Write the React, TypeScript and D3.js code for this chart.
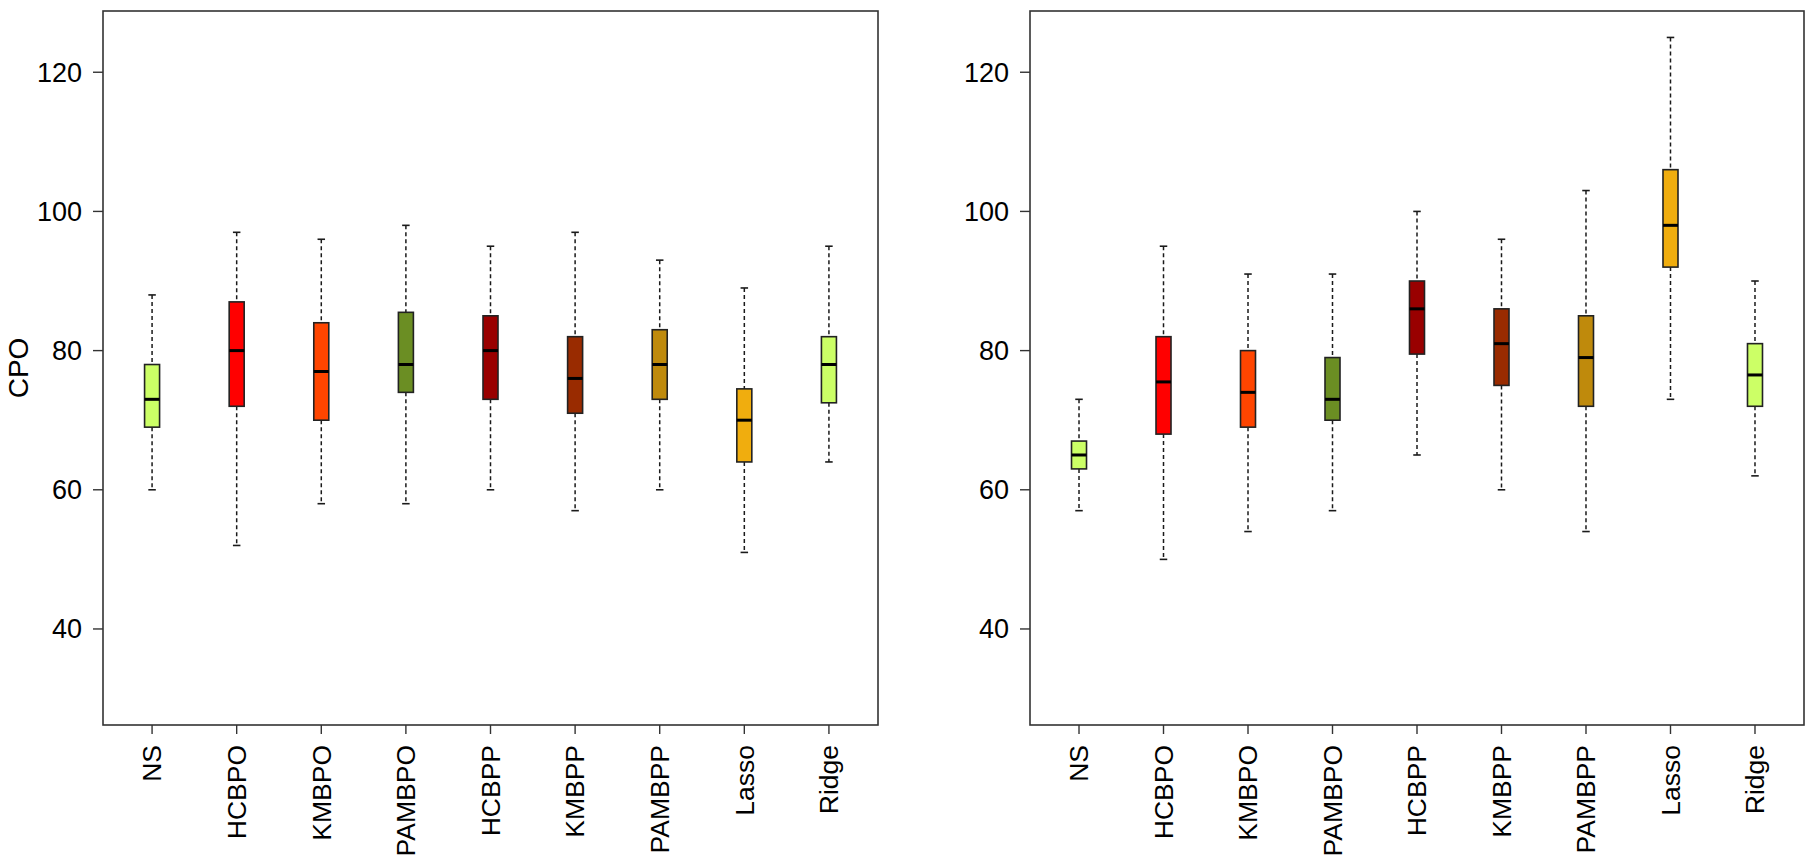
import React from "react";
import * as d3 from "d3";

const categories = ["NS", "HCBPO", "KMBPO", "PAMBPO", "HCBPP", "KMBPP", "PAMBPP", "Lasso", "Ridge"];
const boxColors = ["#CCFF66", "#FF0000", "#FF4500", "#6B8E23", "#990000", "#992B00", "#BF8A0C", "#F0AD0E", "#CCFF66"];
const yTicks = [40, 60, 80, 100, 120];
const yLimits = [30, 125];

// Left panel
const leftLow = [60, 52, 58, 58, 60, 57, 60, 51, 64];
const leftQ1 = [69, 72, 70, 74, 73, 71, 73, 64, 72.5];
const leftMedian = [73, 80, 77, 78, 80, 76, 78, 70, 78];
const leftQ3 = [78, 87, 84, 85.5, 85, 82, 83, 74.5, 82];
const leftHigh = [88, 97, 96, 98, 95, 97, 93, 89, 95];

// Right panel
const rightLow = [57, 50, 54, 57, 65, 60, 54, 73, 62];
const rightQ1 = [63, 68, 69, 70, 79.5, 75, 72, 92, 72];
const rightMedian = [65, 75.5, 74, 73, 86, 81, 79, 98, 76.5];
const rightQ3 = [67, 82, 80, 79, 90, 86, 85, 106, 81];
const rightHigh = [73, 95, 91, 91, 100, 96, 103, 125, 90];

const FONT = "'Liberation Sans', Arial, sans-serif";

type PanelProps = {
  x0: number;
  x1: number;
  low: number[];
  q1: number[];
  med: number[];
  q3: number[];
  high: number[];
  ylab?: string;
};

const TOP = 11;
const BOTTOM = 725;

function Panel({ x0, x1, low, q1, med, q3, high, ylab }: PanelProps) {
  const ext = (yLimits[1] - yLimits[0]) * 0.04;
  const y = d3.scaleLinear().domain([yLimits[0] - ext, yLimits[1] + ext]).range([BOTTOM, TOP]);
  const pad = 0.58;
  const x = d3.scaleLinear().domain([1 - pad, categories.length + pad]).range([x0, x1]);
  const bw = 15;
  const cw = 7.5;
  return (
    <g>
      {categories.map((c, i) => {
        const cx = x(i + 1);
        return (
          <g key={c}>
            <line x1={cx} x2={cx} y1={y(high[i])} y2={y(q3[i])} stroke="#1a1a1a" strokeWidth={1.5} strokeDasharray="4,3" />
            <line x1={cx} x2={cx} y1={y(q1[i])} y2={y(low[i])} stroke="#1a1a1a" strokeWidth={1.5} strokeDasharray="4,3" />
            <line x1={cx - cw / 2} x2={cx + cw / 2} y1={y(high[i])} y2={y(high[i])} stroke="#1a1a1a" strokeWidth={1.6} />
            <line x1={cx - cw / 2} x2={cx + cw / 2} y1={y(low[i])} y2={y(low[i])} stroke="#1a1a1a" strokeWidth={1.6} />
            <rect x={cx - bw / 2} y={y(q3[i])} width={bw} height={y(q1[i]) - y(q3[i])} fill={boxColors[i]} stroke="#222" strokeWidth={1.6} />
            <line x1={cx - bw / 2} x2={cx + bw / 2} y1={y(med[i])} y2={y(med[i])} stroke="#000" strokeWidth={3} />
            <line x1={cx} x2={cx} y1={BOTTOM} y2={BOTTOM + 9} stroke="#333" strokeWidth={1.4} />
            <text
              transform={`translate(${cx},${BOTTOM + 20}) rotate(-90)`}
              textAnchor="end"
              dy="0.35em"
              fontSize={26.5}
              fontFamily={FONT}
              fill="#000"
            >
              {c}
            </text>
          </g>
        );
      })}
      {yTicks.map((t) => (
        <g key={t}>
          <line x1={x0 - 10} x2={x0} y1={y(t)} y2={y(t)} stroke="#333" strokeWidth={1.4} />
          <text x={x0 - 21} y={y(t)} dy="0.35em" textAnchor="end" fontSize={27} fontFamily={FONT} fill="#000">
            {t}
          </text>
        </g>
      ))}
      <rect x={x0} y={TOP} width={x1 - x0} height={BOTTOM - TOP} fill="none" stroke="#333" strokeWidth={1.6} />
      {ylab && (
        <text
          transform={`translate(18,${(TOP + BOTTOM) / 2}) rotate(-90)`}
          textAnchor="middle"
          dy="0.35em"
          fontSize={28}
          fontFamily={FONT}
          fill="#000"
        >
          {ylab}
        </text>
      )}
    </g>
  );
}

export default function App() {
  return (
    <svg width={1810} height={868} style={{ position: "absolute", left: 0, top: 0, background: "#fff" }}>
      <rect x={0} y={0} width={1810} height={868} fill="#fff" />
      <Panel x0={103} x1={878} low={leftLow} q1={leftQ1} med={leftMedian} q3={leftQ3} high={leftHigh} ylab="CPO" />
      <Panel x0={1030} x1={1804} low={rightLow} q1={rightQ1} med={rightMedian} q3={rightQ3} high={rightHigh} />
    </svg>
  );
}
